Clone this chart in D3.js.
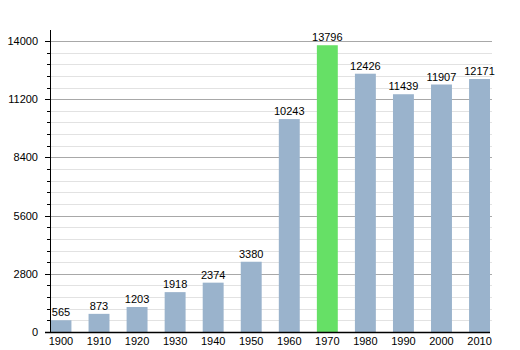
<!DOCTYPE html>
<html><head><meta charset="utf-8">
<script src="https://cdn.jsdelivr.net/npm/d3@7"></script>
<style>body{margin:0;background:#fff}text{font-family:"Liberation Sans",Arial,sans-serif}</style>
</head><body>
<svg id="c" width="520" height="350"></svg>
<script>
const years = ["1900","1910","1920","1930","1940","1950","1960","1970","1980","1990","2000","2010"];
const population = [565,873,1203,1918,2374,3380,10243,13796,12426,11439,11907,12171];
const highlightYear = "1970";
const majorTicks = [0,2800,5600,8400,11200,14000];
const minorStep = 560;

const svg = d3.select("#c");
const x = d3.scaleBand().domain(years).range([50.5, 490]).paddingInner(0.45).paddingOuter(0);
const y = d3.scaleLinear().domain([0, 14000]).range([332, 41]);

const minor = d3.range(0, 14000 + 1, minorStep);
// minor gridlines
svg.append("g").selectAll("line").data(minor.filter(v => v % 2800 !== 0)).join("line")
  .attr("x1", 50).attr("x2", 492)
  .attr("y1", d => Math.round(y(d)) + 0.5).attr("y2", d => Math.round(y(d)) + 0.5)
  .attr("stroke", "#e2e2e2").attr("stroke-width", 1);
// major gridlines
svg.append("g").selectAll("line").data(majorTicks.filter(v => v > 0)).join("line")
  .attr("x1", 50).attr("x2", 492)
  .attr("y1", d => Math.round(y(d)) + 0.5).attr("y2", d => Math.round(y(d)) + 0.5)
  .attr("stroke", "#a8a8a8").attr("stroke-width", 1);

// bars
svg.append("g").selectAll("rect").data(years).join("rect")
  .attr("x", d => x(d)).attr("width", x.bandwidth())
  .attr("y", (d, i) => y(population[i])).attr("height", (d, i) => y(0) - y(population[i]))
  .attr("fill", d => d === highlightYear ? "#66e066" : "#9ab3cc");

// value labels
svg.append("g").selectAll("text").data(years).join("text")
  .attr("x", d => x(d) + x.bandwidth() / 2).attr("y", (d, i) => y(population[i]) - 4)
  .attr("text-anchor", "middle").attr("font-size", 11).attr("fill", "#000")
  .text((d, i) => population[i]);

// y axis
const yAxis = svg.append("g");
yAxis.append("line").attr("x1", 50.5).attr("x2", 50.5).attr("y1", 30).attr("y2", 332).attr("stroke", "#000");
yAxis.selectAll("line.minor").data(minor.filter(v => v % 2800 !== 0)).join("line").attr("class","minor")
  .attr("x1", 47).attr("x2", 50).attr("y1", d => Math.round(y(d)) + 0.5).attr("y2", d => Math.round(y(d)) + 0.5)
  .attr("stroke", "#000");
yAxis.selectAll("line.major").data(majorTicks).join("line").attr("class","major")
  .attr("x1", 45).attr("x2", 50).attr("y1", d => Math.round(y(d)) + 0.5).attr("y2", d => Math.round(y(d)) + 0.5)
  .attr("stroke", "#000");
yAxis.selectAll("text").data(majorTicks).join("text")
  .attr("x", 38).attr("y", d => y(d) + 4).attr("text-anchor", "end")
  .attr("font-size", 11).attr("fill", "#000").text(d => d);

// x axis
svg.append("line").attr("x1", 45).attr("x2", 490).attr("y1", 332.5).attr("y2", 332.5)
  .attr("stroke", "#000").attr("stroke-width", 1.5);
svg.append("g").selectAll("text").data(years).join("text")
  .attr("x", d => x(d) + x.bandwidth() / 2).attr("y", 345)
  .attr("text-anchor", "middle").attr("font-size", 11).attr("fill", "#000").text(d => d);
</script>
</body></html>
